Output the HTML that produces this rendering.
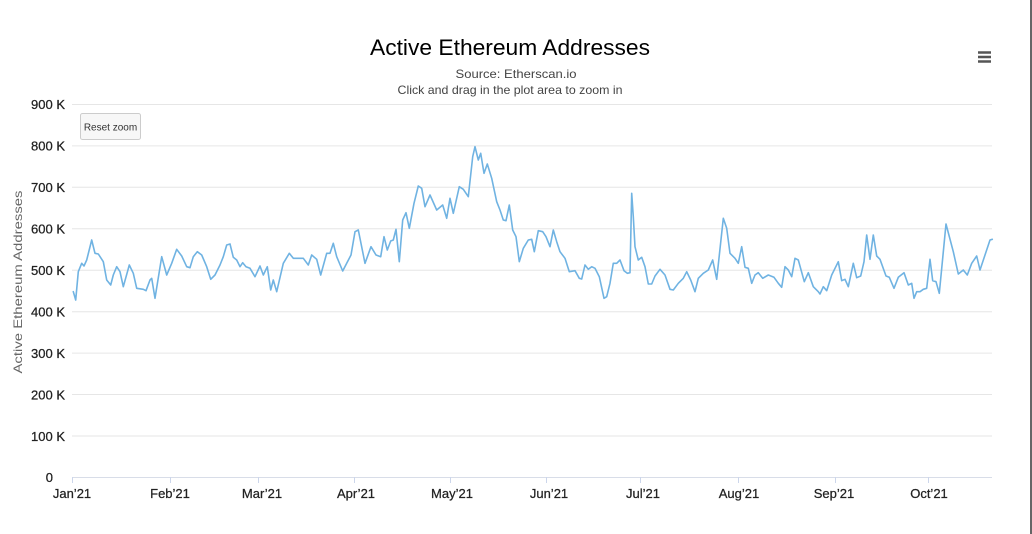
<!DOCTYPE html>
<html><head><meta charset="utf-8"><style>
html,body{margin:0;padding:0;background:#fff;}
svg{display:block;font-family:"Liberation Sans",sans-serif;}
</style></head><body>
<svg width="1032" height="534" viewBox="0 0 1032 534" xmlns="http://www.w3.org/2000/svg">
<rect width="1032" height="534" fill="#fff"/>
<line x1="1031" x2="1031" y1="0" y2="534" stroke="#333" stroke-width="1.5"/>
<g stroke="#e6e6e6" stroke-width="1">
<line x1="72" x2="992" y1="104.5" y2="104.5"/>
<line x1="72" x2="992" y1="145.9" y2="145.9"/>
<line x1="72" x2="992" y1="187.3" y2="187.3"/>
<line x1="72" x2="992" y1="228.8" y2="228.8"/>
<line x1="72" x2="992" y1="270.2" y2="270.2"/>
<line x1="72" x2="992" y1="311.7" y2="311.7"/>
<line x1="72" x2="992" y1="353.1" y2="353.1"/>
<line x1="72" x2="992" y1="394.5" y2="394.5"/>
<line x1="72" x2="992" y1="436" y2="436"/>
</g>
<line x1="72" x2="992" y1="477.5" y2="477.5" stroke="#d8dde8" stroke-width="1"/>
<g stroke="#ccd6eb" stroke-width="1">
<line x1="72.5" x2="72.5" y1="477" y2="483"/>
<line x1="170.5" x2="170.5" y1="477" y2="483"/>
<line x1="258.5" x2="258.5" y1="477" y2="483"/>
<line x1="354.5" x2="354.5" y1="477" y2="483"/>
<line x1="450.5" x2="450.5" y1="477" y2="483"/>
<line x1="546.5" x2="546.5" y1="477" y2="483"/>
<line x1="640.5" x2="640.5" y1="477" y2="483"/>
<line x1="738.5" x2="738.5" y1="477" y2="483"/>
<line x1="835.5" x2="835.5" y1="477" y2="483"/>
<line x1="928.5" x2="928.5" y1="477" y2="483"/>
</g>
<text x="510" y="55" text-anchor="middle" font-size="22" fill="#000" textLength="280" lengthAdjust="spacingAndGlyphs">Active Ethereum Addresses</text>
<text x="516" y="78" text-anchor="middle" font-size="12" fill="#444" textLength="121" lengthAdjust="spacingAndGlyphs">Source: Etherscan.io</text>
<text x="510" y="94" text-anchor="middle" font-size="12" fill="#444" textLength="225" lengthAdjust="spacingAndGlyphs">Click and drag in the plot area to zoom in</text>
<g stroke="#555" stroke-width="2.5">
<line x1="978" x2="991" y1="52.5" y2="52.5"/>
<line x1="978" x2="991" y1="57" y2="57"/>
<line x1="978" x2="991" y1="61.5" y2="61.5"/>
</g>
<rect x="80.5" y="113.5" width="60" height="26" rx="2" fill="#f7f7f7" stroke="#cccccc"/>
<text x="110.5" y="130.5" text-anchor="middle" font-size="10" fill="#333">Reset zoom</text>
<g font-size="13" fill="#222" text-anchor="end" stroke="#222" stroke-width="0.25">
<text x="65" y="109">900 K</text>
<text x="65" y="150.5">800 K</text>
<text x="65" y="192">700 K</text>
<text x="65" y="233.5">600 K</text>
<text x="65" y="275">500 K</text>
<text x="65" y="316.5">400 K</text>
<text x="65" y="358">300 K</text>
<text x="65" y="399.5">200 K</text>
<text x="65" y="441">100 K</text>
<text x="53" y="482">0</text>
</g>
<text transform="translate(22,282) rotate(-90)" text-anchor="middle" font-size="12" fill="#666" textLength="183" lengthAdjust="spacingAndGlyphs">Active Ethereum Addresses</text>
<g font-size="13" fill="#222" text-anchor="middle" stroke="#222" stroke-width="0.25">
<text x="72" y="498">Jan’21</text>
<text x="170" y="498">Feb’21</text>
<text x="262" y="498">Mar’21</text>
<text x="356" y="498">Apr’21</text>
<text x="452" y="498">May’21</text>
<text x="549" y="498">Jun’21</text>
<text x="643" y="498">Jul’21</text>
<text x="739" y="498">Aug’21</text>
<text x="834" y="498">Sep’21</text>
<text x="929" y="498">Oct’21</text>
</g>
<polyline fill="none" stroke="#70b3e2" stroke-width="1.6" stroke-linejoin="round" stroke-linecap="round" points="73.3,291.7 75.7,300 78.3,271.7 81.7,263.3 84,266 86.7,260 91.7,240 95,253.3 98.3,254 103.3,261.7 106.7,280 110.7,285 113.3,275 116.7,266.7 120,271.7 123.3,286.7 129.3,265 133.3,273.3 136.7,288.3 143.3,289.3 146,290.7 150,280 151.7,278.3 155,298.3 161.7,256.7 166.7,275 171.7,263.3 176.7,249.3 181.7,256 186.7,266.7 190,267.7 193.3,256.7 197.3,251.7 201.7,255 206.7,266.7 210.7,279.3 215,275 220,265 223.3,256.7 226.7,245 230,244 233.3,257.3 236.7,260 240,266.7 242.7,262.7 246,266.7 250,268.3 255,276.7 260,266 263.3,275 267.3,266.7 270.7,290 273.3,280 276.7,291.7 283.3,263.3 289.3,253.3 293.3,258.3 296.7,258.3 303.3,258.3 308.3,265 311.7,255 316.7,259.3 320.7,275 326.7,253.3 330,253.3 333.3,243.3 336.7,256.7 342.7,271 346.7,263.3 351,255 355,231.7 358.3,230 365,263.3 371,246.7 376,255 380.7,256.7 384,236.7 387.3,250 390.7,241 393.3,240 396,229.3 399.3,261.7 402.7,220 406,212.7 409.3,228.3 414,203.3 418.3,186 421.7,188.3 425,206.7 430,195 436.7,210 442.7,205 446.7,218.3 450,198.3 453.3,213.3 459.3,186.7 463.3,189.3 468.3,196.7 472.7,156.7 475,146.7 478.3,160 480.7,153.3 484,173.3 487.3,164 491.7,178.3 496.7,201.7 500,210 503.3,220 506,220.7 509.3,205 512.7,230 516,236.7 519.3,261.7 523.3,248.3 528.3,240 531.7,239.3 534.3,251.7 538.3,230.7 542.7,231.7 546,236.7 550,246.7 553.3,230 556.7,241.7 560,251.7 565,258.3 569.3,271.7 575,270.7 579.3,278.3 581.7,279 585,265 588.3,269.3 591.7,266.7 595,268.3 599.3,276.7 604,298.3 606.7,296.7 610,283.3 613.3,263.3 616.7,263.3 620,260 624,270.7 627.3,273.3 630,272.7 631.7,193.3 633.3,216.7 635,246.7 638.3,260 641.7,257.3 645,266.7 648.3,284 651.7,284 655,276 660,269.3 665,275 670,289.3 673.3,290 678.3,283.3 683.3,278.3 686.7,271.7 690.7,280 695,291.7 698.3,278.3 703.3,273.3 708.3,270 712.7,260 716.7,279.3 723.3,218.3 726.7,228.3 730,253.3 735,258.3 738.3,263.3 741.7,246.7 745,267.3 748.3,268.3 751.7,283.3 755,275 758.3,272.7 762.7,278.3 768.3,275 774,277.3 778.3,283.3 781.7,287.3 785,266.7 788.3,270 791.7,276.7 795,258.3 798.3,260 804.3,281.7 808.3,272.7 813.3,286.7 818.3,291.7 820,294 823.3,286.7 826.7,290.7 831.7,275 838.3,261.7 841.7,280.7 845,279.3 848.3,286.7 853.3,263.3 856.7,277.7 860.7,276 864,261.7 866.7,235 870,259.3 873.3,235 876.7,256 880,259.3 886,276 889.3,277.3 894,288.3 898.3,277.3 904,272.7 908.3,285 911.7,283.3 914,298.3 916.7,291.7 920,291.7 923.3,289.3 926.7,288.3 930,259.3 932.7,280.7 936,281.7 939.3,293.3 946,224 953.3,251.7 958.3,274 963.3,270 967.3,275 971.7,263.3 976.7,256 980,270 985,255 990,240 992.3,239.3"/>
</svg>
</body></html>
